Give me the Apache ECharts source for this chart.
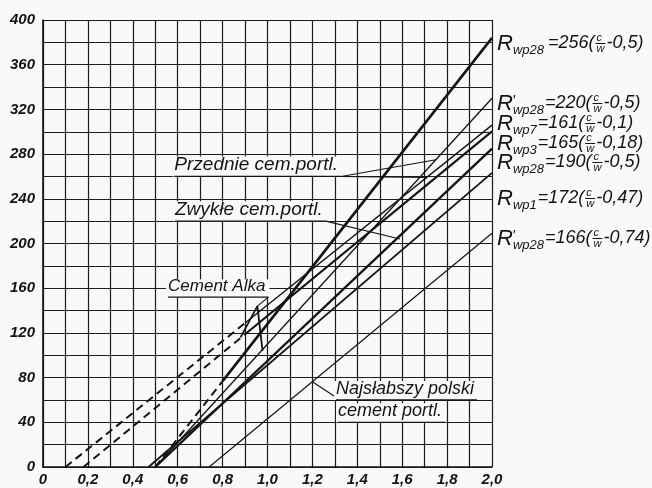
<!DOCTYPE html>
<html>
<head>
<meta charset="utf-8">
<script src="https://cdn.jsdelivr.net/npm/echarts@6/dist/echarts.min.js"></script>
<style>
  html, body { margin: 0; padding: 0; background: #f9f9f8; }
  #chart { width: 652px; height: 488px; }
</style>
</head>
<body>
<div id="chart"></div>
<script>
// Compressive strength of concrete vs. cement-water ratio: R = k (c/w - a)
const coefK = [256, 220, 161, 165, 190, 172, 166];
const coefA = [0.5, 0.5, 0.1, 0.18, 0.5, 0.47, 0.74];
const dashUntil = [0.8, null, 0.9, 0.9, null, null, null];   // extrapolated part near the origin
const labelSub = ['wp28', 'wp28', 'wp7', 'wp3', 'wp28', 'wp1', 'wp28'];
const labelPrime = [false, true, false, false, false, false, true];
const labelCoef = ['256', '220', '161', '165', '190', '172', '166'];
const labelShift = ['0,5', '0,5', '0,1', '0,18', '0,5', '0,47', '0,74'];

// "Cement Alka" curve with its early-strength peak
const alkaX = [0.88, 0.955, 0.978];
const alkaY = [116, 144, 104];

const xTickLabels = ['0', '0,2', '0,4', '0,6', '0,8', '1,0', '1,2', '1,4', '1,6', '1,8', '2,0'];
const yTickLabels = ['0', '40', '80', '120', '160', '200', '240', '280', '320', '360', '400'];

const INK = '#141414';
const PAPER = '#f9f9f8';
const FONT = '"Liberation Sans", Arial, sans-serif';
const lineWidths = [2.6, 1.3, 1.4, 2.2, 2.4, 1.8, 1.2];
const labelMidY = [43, 103, 123, 143, 162, 198, 238];

const chart = echarts.init(document.getElementById('chart'), null, { renderer: 'canvas' });

const series = [];
coefK.forEach((k, i) => {
  const a = coefA[i];
  const at = x => k * (x - a);
  const solidFrom = dashUntil[i] === null ? a : dashUntil[i];
  if (dashUntil[i] !== null) {
    series.push({
      type: 'line', silent: true, symbol: 'none', z: 3,
      data: [[a, 0], [solidFrom, at(solidFrom)]],
      lineStyle: { color: INK, width: 2, type: [8, 5] }
    });
  }
  series.push({
    type: 'line', silent: true, symbol: 'none', z: 3,
    data: [[solidFrom, at(solidFrom)], [2, at(2)]],
    lineStyle: { color: INK, width: lineWidths[i] }
  });
});
series.push({
  type: 'line', silent: true, symbol: 'none', z: 3,
  data: alkaX.map((x, i) => [x, alkaY[i]]),
  lineStyle: { color: INK, width: 1.8 }
});

chart.setOption({
  backgroundColor: PAPER,
  animation: false,
  grid: { left: 43, right: 160, top: 20, bottom: 21 },
  xAxis: {
    type: 'value', min: 0, max: 2, interval: 0.1,
    axisLine: { show: true, onZero: false, lineStyle: { color: INK, width: 1.6 } },
    axisTick: { show: false },
    splitLine: { show: true, lineStyle: { color: '#1c1c1c', width: 1.2 } },
    axisLabel: {
      margin: 5, color: INK, fontFamily: FONT, fontStyle: 'italic', fontWeight: 'bold', fontSize: 15,
      hideOverlap: false,
      formatter: v => { const i = Math.round(v * 10); return i % 2 === 0 ? xTickLabels[i / 2] : ''; }
    }
  },
  yAxis: {
    type: 'value', min: 0, max: 400, interval: 20,
    axisLine: { show: true, onZero: false, lineStyle: { color: INK, width: 1.6 } },
    axisTick: { show: false },
    splitLine: { show: true, lineStyle: { color: '#1c1c1c', width: 1.2 } },
    axisLabel: {
      margin: 8, color: INK, fontFamily: FONT, fontStyle: 'italic', fontWeight: 'bold', fontSize: 15,
      hideOverlap: false,
      formatter: v => { const i = Math.round(v / 20); return i % 2 === 0 ? yTickLabels[i / 2] : ''; }
    }
  },
  series
});

// ---- annotations ----
const ctx = document.createElement('canvas').getContext('2d');
function textWidth(text, size) {
  ctx.font = `italic normal ${size}px ${FONT}`;
  return ctx.measureText(text).width;
}
const px = (x, y) => chart.convertToPixel({ gridIndex: 0 }, [x, y]);
const els = [];
function text(str, size, x, y, align, vAlign) {
  els.push({ type: 'text', z: 100, silent: true,
    style: { text: str, x, y, font: `italic normal ${size}px ${FONT}`, fill: INK,
             align: align || 'left', verticalAlign: vAlign || 'middle' } });
}
function seg(x1, y1, x2, y2, w) {
  els.push({ type: 'line', z: 101, silent: true,
    shape: { x1, y1, x2, y2 }, style: { stroke: INK, lineWidth: w || 1.2 } });
}
function box(x, y, w, h) {
  els.push({ type: 'rect', z: 99, silent: true, shape: { x, y, width: w, height: h },
    style: { fill: PAPER } });
}

// formula labels to the right of the plot
const rightX = px(2, 0)[0] + 5;
coefK.forEach((k, i) => {
  const c = labelMidY[i];
  let cx = rightX;
  text('R', 22, cx, c + 1);
  cx += textWidth('R', 22);
  if (labelPrime[i]) text('\'', 15, cx - 1, c - 2);
  text(labelSub[i], 13, cx, c + 7);
  cx += textWidth(labelSub[i], 13) + (i === 0 ? 4 : 1);
  const head = '=' + labelCoef[i] + '(';
  text(head, 18, cx, c);
  cx += textWidth(head, 18) + 1;
  const fw = Math.max(textWidth('c', 11), textWidth('w', 11));
  text('c', 11, cx + 1, c - 5);
  seg(cx, c + 0.5, cx + fw + 2, c + 0.5, 1);
  text('w', 11, cx + 1, c + 6);
  cx += fw + 3;
  text('-' + labelShift[i] + ')', 18, cx, c);
});

// underlined captions inside the plot
function caption(str, size, dx, dy) {
  const p = px(dx, dy);
  const w = textWidth(str, size);
  box(p[0] - 2, p[1] - size - 1, w + 6, size + 1);
  text(str, size, p[0], p[1] - 2, 'left', 'bottom');
  seg(p[0], p[1], p[0] + w + 3, p[1], 1.3);
  return [p[0] + w + 3, p[1]];
}
function leader(from, toData) {
  const q = px(toData[0], toData[1]);
  seg(from[0], from[1], q[0], q[1], 1.1);
}

const pEnd = caption('Przednie cem.portl.', 19, 0.585, 260);
leader(pEnd, [1.75, 275]);
leader(pEnd, [1.71, 259]);

const zEnd = caption('Zwykłe cem.portl.', 19, 0.588, 220);
leader(zEnd, [1.59, 204]);

const aEnd = caption('Cement Alka', 17, 0.557, 152);
leader(aEnd, [alkaX[1], alkaY[1]]);

const nStart = px(1.305, 60);
caption('Najsłabszy polski', 18, 1.305, 60);
caption('cement portl.', 18, 1.314, 40);
const onLine = px(1.2, 166 * (1.2 - 0.74));
seg(onLine[0], onLine[1], nStart[0] - 2, nStart[1] - 4, 1.1);

chart.setOption({ graphic: { elements: els } });
</script>
</body>
</html>
